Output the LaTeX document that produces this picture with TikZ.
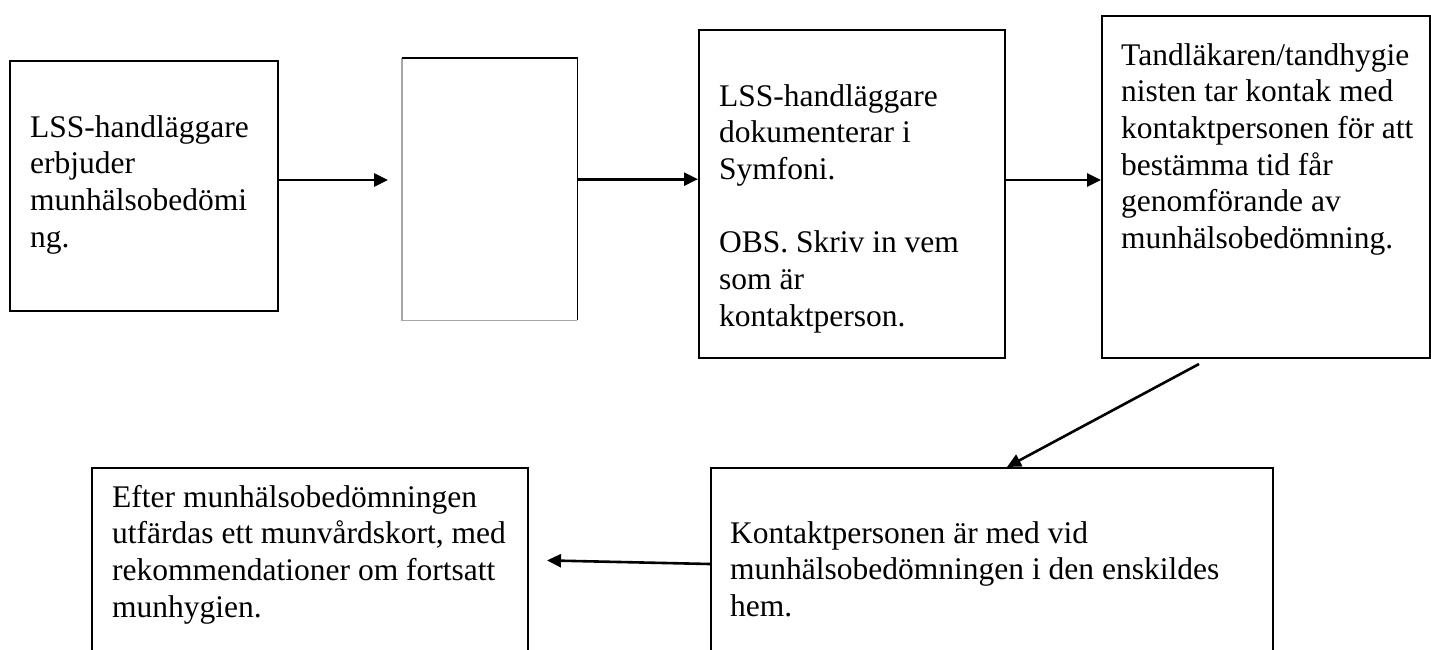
\documentclass[tikz,border=0pt]{standalone}
\usepackage{fontspec}
\setmainfont{Liberation Serif}
\usetikzlibrary{arrows.meta}
\begin{document}
\begin{tikzpicture}[x=1pt,y=-1pt,
  box/.style={draw=black,line width=2pt,inner sep=0pt,anchor=north west},
  flow/.style={line width=2.6pt,-{Triangle[length=14pt,width=13pt]}},
  txt/.style={anchor=base west,inner sep=0pt,align=left,font=\fontsize{31.5}{36.7}\selectfont}]
\useasboundingbox (0,0) rectangle (1431,649);
\clip (0,0) rectangle (1431,649);
\fill[white] (0,0) rectangle (1431,649);
% boxes
\node[box,minimum width=268pt,minimum height=250pt] (A) at (9,60) {};
\node[inner sep=0pt,anchor=north west,minimum width=175pt,minimum height=262pt] (B) at (402,58) {};
\draw[line width=1.2pt,black!35] (B.north west) -- (B.south west) -- (B.south east);
\draw[line width=1.2pt,black] (B.south east) -- (B.north east) -- (B.north west);
\node[box,minimum width=306pt,minimum height=328pt] (C) at (698,29) {};
\node[box,minimum width=328pt,minimum height=342pt] (D) at (1101,15) {};
\node[box,minimum width=562pt,minimum height=213pt] (E) at (710,467) {};
\node[box,minimum width=436pt,minimum height=213pt] (F) at (91,467) {};
% texts (anchored at the baseline of their last line)
\node[txt] (tA) at (30,247.1) {LSS-handläggare\\erbjuder\\munhälsobedömi\\ng.};
\node[txt] (tC) at (719,326.2) {LSS-handläggare\\dokumenterar i\\Symfoni.\\[36.7pt]OBS. Skriv in vem\\som är\\kontaktperson.};
\node[txt] (tD) at (1121,248.5) {Tandläkaren/tandhygie\\nisten tar kontak med\\kontaktpersonen för att\\bestämma tid får\\genomförande av\\munhälsobedömning.};
\node[txt] (tF) at (112,617.1) {Efter munhälsobedömningen\\utfärdas ett munvårdskort, med\\rekommendationer om fortsatt\\munhygien.};
\node[txt] (tE) at (730,616.4) {Kontaktpersonen är med vid\\munhälsobedömningen i den enskildes\\hem.};
% connector anchors
\coordinate (a1) at ([yshift=6pt]A.east);
\coordinate (a2) at ([yshift=10pt]B.east);
\coordinate (a3) at ([yshift=14pt]C.east);
\coordinate (a4) at ([xshift=-67pt,yshift=-5pt]D.south);
\coordinate (a5) at ([xshift=15pt]E.north);
\coordinate (a6) at ([yshift=10.5pt]E.west);
\coordinate (a7) at ([yshift=14.5pt]F.east);
% connectors
\draw[flow,shorten >=14pt] (a1) -- (a1 -| B.west);
\draw[flow] (a2) -- (a2 -| C.west);
\draw[flow] (a3) -- (a3 -| D.west);
\draw[flow] (a4) -- (a5);
\draw[flow,shorten >=18pt] (a6) -- (a7);
\end{tikzpicture}
\end{document}
